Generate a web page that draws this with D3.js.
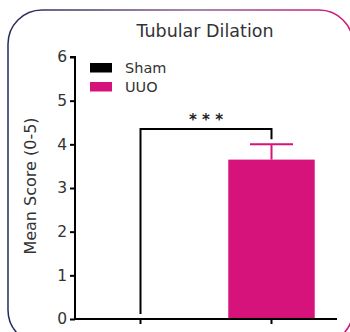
<!DOCTYPE html>
<html>
<head>
<meta charset="utf-8">
<script src="https://cdn.jsdelivr.net/npm/d3@7"></script>
<style>
  body { margin: 0; background: #fff; }
  svg { display: block; font-family: "DejaVu Sans", sans-serif; }
</style>
</head>
<body>
<svg id="chart" width="350" height="332"></svg>
<script>
// data
const groups = ["Sham", "UUO"];
const means = [0, 3.65];
const sems = [0, 0.35];
const colors = ["#000000", "#d6137a"];
const yTicks = [0, 1, 2, 3, 4, 5, 6];
const bracketHeight = 4.35;

const svg = d3.select("#chart");
const margin = { top: 57, right: 13, bottom: 13, left: 75 },
  width = 350 - margin.left - margin.right,
  height = 332 - margin.top - margin.bottom;

// border with gradient stroke
const grad = svg.append("defs").append("linearGradient")
  .attr("id", "edge").attr("x1", "0%").attr("x2", "100%");
grad.append("stop").attr("offset", "0%").attr("stop-color", "#262a5c");
grad.append("stop").attr("offset", "55%").attr("stop-color", "#8a5f8f");
grad.append("stop").attr("offset", "100%").attr("stop-color", "#d6137a");
svg.append("rect")
  .attr("x", 8).attr("y", 10)
  .attr("width", 345).attr("height", 334)
  .attr("rx", 34)
  .attr("fill", "none")
  .attr("stroke", "url(#edge)")
  .attr("stroke-width", 1.5);

svg.append("text")
  .attr("x", 205).attr("y", 37)
  .attr("text-anchor", "middle")
  .attr("font-size", 17.5)
  .attr("fill", "#333")
  .text("Tubular Dilation");

const g = svg.append("g")
  .attr("transform", "translate(" + margin.left + "," + margin.top + ")");

var x = d3.scaleBand().domain(groups).range([0, width]).padding(0);
var y = d3.scaleLinear().domain([0, 6]).range([height, 0]);
const barW = x.bandwidth() * 0.66;

// bars
g.selectAll("rect.bar")
  .data(groups)
  .enter()
  .append("rect")
  .attr("class", "bar")
  .attr("x", (d, i) => x(d) + (x.bandwidth() - barW) / 2)
  .attr("y", (d, i) => y(means[i]))
  .attr("width", barW)
  .attr("height", (d, i) => y(0) - y(means[i]))
  .attr("fill", (d, i) => colors[i]);

// error bars
groups.forEach((d, i) => {
  if (sems[i] <= 0) return;
  const cx = x(d) + x.bandwidth() / 2;
  g.append("line")
    .attr("x1", cx).attr("x2", cx)
    .attr("y1", y(means[i])).attr("y2", y(means[i] + sems[i]))
    .attr("stroke", colors[i]).attr("stroke-width", 2);
  g.append("line")
    .attr("x1", cx - 21.5).attr("x2", cx + 21.5)
    .attr("y1", y(means[i] + sems[i])).attr("y2", y(means[i] + sems[i]))
    .attr("stroke", colors[i]).attr("stroke-width", 2);
});

// significance bracket
const c0 = x(groups[0]) + x.bandwidth() / 2,
  c1 = x(groups[1]) + x.bandwidth() / 2;
g.append("path")
  .attr("d", "M" + c0 + "," + (y(means[0]) - 5) +
    "V" + y(bracketHeight) + "H" + c1 +
    "V" + (y(means[1] + sems[1]) - 5))
  .attr("fill", "none")
  .attr("stroke", "#000")
  .attr("stroke-width", 2);
g.append("text")
  .attr("x", (c0 + c1) / 2).attr("y", y(bracketHeight) - 4)
  .attr("text-anchor", "middle")
  .attr("font-size", 15)
  .attr("font-weight", "bold")
  .attr("fill", "#222")
  .text("* * *");

// axes
const yAxis = g.append("g")
  .call(d3.axisLeft(y).tickValues(yTicks).tickSize(5).tickPadding(3).tickFormat(d3.format("d")));
const xAxis = g.append("g")
  .attr("transform", "translate(0," + height + ")")
  .call(d3.axisBottom(x).tickSize(5).tickFormat(""));
[yAxis, xAxis].forEach(a => {
  a.select(".domain").attr("stroke-width", 2);
  a.selectAll(".tick line").attr("stroke-width", 2);
});
yAxis.selectAll(".tick text").attr("font-size", 15.5).attr("fill", "#333")
  .attr("font-family", "DejaVu Sans, sans-serif");
xAxis.select(".domain").attr("d", "M0,0H" + width);
yAxis.select(".domain").attr("d", "M-5,0H0V" + height);

// y label
svg.append("text")
  .attr("transform", "translate(36,186) rotate(-90)")
  .attr("text-anchor", "middle")
  .attr("font-size", 16)
  .attr("fill", "#333")
  .text("Mean Score (0-5)");

// legend
const legend = g.append("g").attr("transform", "translate(15,6)");
groups.forEach((d, i) => {
  legend.append("rect")
    .attr("x", 0).attr("y", i * 19)
    .attr("width", 22).attr("height", 9.5)
    .attr("fill", colors[i]);
  legend.append("text")
    .attr("x", 35).attr("y", i * 19 + 10)
    .attr("font-size", 14.5)
    .attr("fill", "#333")
    .text(d);
});
</script>
</body>
</html>
